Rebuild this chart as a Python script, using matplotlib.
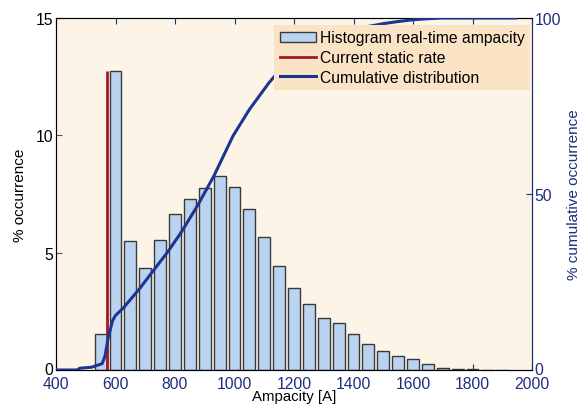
import matplotlib
matplotlib.use("Agg")
import matplotlib.pyplot as plt
from matplotlib.patches import Patch
from matplotlib.lines import Line2D

plt.rcParams['font.family'] = ['Liberation Sans', 'DejaVu Sans']

# Histogram bins (centers, A) and % occurrence
bin_centers = [550, 600, 650, 700, 750, 800, 850, 900, 950, 1000, 1050, 1100,
               1150, 1200, 1250, 1300, 1350, 1400, 1450, 1500, 1550, 1600,
               1650, 1700, 1750, 1800, 1850, 1900]
occurrence = [1.55, 12.75, 5.5, 4.35, 5.55, 6.65, 7.3, 7.75, 8.25, 7.8, 6.85, 5.65,
              4.45, 3.5, 2.8, 2.2, 2.0, 1.55, 1.1, 0.8, 0.6, 0.45,
              0.25, 0.1, 0.03, 0.03, 0.02, 0.02]

# Current static rate
static_rate = 570
static_height = 12.75

# Cumulative distribution (%)
cum_x = [400, 470, 480, 520, 555, 565, 575, 590, 600, 625, 680, 725, 775, 820,
         875, 930, 995, 1050, 1115, 1150, 1200, 1250, 1300, 1350, 1400, 1450,
         1500, 1550, 1600, 1650, 1700, 1950]
cum_y = [0, 0, 0.5, 0.8, 1.8, 4, 9, 14, 15.5, 17.5, 23, 28, 33.5, 39,
         46.6, 55, 66.5, 74, 81.5, 85, 88.5, 91.5, 93.8, 95.6, 96.8, 97.6,
         98.4, 99, 99.5, 99.8, 100, 100]

x_ticks = [400, 600, 800, 1000, 1200, 1400, 1600, 1800, 2000]
left_ticks = [0, 5, 10, 15]
right_ticks = [0, 50, 100]

navy = '#1f2d7a'
bar_color = '#b9d3f0'
bg = '#fdf4e8'
fs = 11.3

fig = plt.figure(figsize=(5.84, 4.10), dpi=100)
ax = fig.add_axes([56/584, 1 - 371/410, 476/584, 352/410])
ax.set_facecolor(bg)

ax.bar(bin_centers, occurrence, width=40, color=bar_color, edgecolor='#3a3a3a',
       linewidth=1.0, zorder=2)
ax.vlines(static_rate, 0, static_height, color='#a3182a', linewidth=2.0, zorder=3)

ax.set_xlim(400, 2000)
ax.set_ylim(0, 15)
ax.set_xticks(x_ticks)
ax.set_yticks(left_ticks)
ax.tick_params(axis='both', direction='in', length=4, labelsize=fs,
               top=True, right=True, pad=2)
ax.tick_params(axis='x', colors=navy, labelcolor=navy, pad=4)
ax.tick_params(axis='y', colors='#555555', labelcolor='black')
ax.set_xlabel('Ampacity [A]', fontsize=10.8, labelpad=-1)
ax.set_ylabel('% occurrence', fontsize=11, labelpad=6)
for s in ['top', 'left']:
    ax.spines[s].set_color('#555555')
ax.spines['bottom'].set_color(navy)
ax.spines['right'].set_color(navy)

ax2 = ax.twinx()
ax2.plot(cum_x, cum_y, color='#1d3591', linewidth=2.2, zorder=4,
         solid_capstyle='butt')
ax2.set_ylim(0, 100)
ax2.set_yticks(right_ticks)
ax2.tick_params(axis='y', direction='in', length=4, labelsize=fs,
                colors=navy, labelcolor=navy, pad=2)
ax2.set_ylabel('% cumulative occurrence', fontsize=11, color=navy, labelpad=4)
ax2.spines['right'].set_color(navy)

# nudge the "0" labels up a little, as in the reference
fig.canvas.draw()
import matplotlib.transforms as mtransforms
for a in (ax, ax2):
    for lbl in a.get_yticklabels():
        if lbl.get_text() == '0':
            lbl.set_transform(lbl.get_transform() +
                              mtransforms.ScaledTranslation(0, 2/100, fig.dpi_scale_trans))

handles = [Patch(facecolor=bar_color, edgecolor='#3a3a3a', linewidth=1.0),
           Line2D([], [], color='#a3182a', linewidth=2.0),
           Line2D([], [], color='#1d3591', linewidth=2.2)]
labels = ['Histogram real-time ampacity', 'Current static rate',
          'Cumulative distribution']
leg = ax2.legend(handles, labels, loc='upper right', fontsize=fs,
                 bbox_to_anchor=(530/584, 1 - 26/410), bbox_transform=fig.transFigure,
                 fancybox=False, facecolor='#fbe4c6', edgecolor='none',
                 framealpha=1.0, borderaxespad=0.0, handlelength=2.35,
                 handletextpad=0.2, labelspacing=0.3, borderpad=0.35)
leg.set_zorder(10)

fig.savefig('out.png', dpi=100, facecolor='white')
